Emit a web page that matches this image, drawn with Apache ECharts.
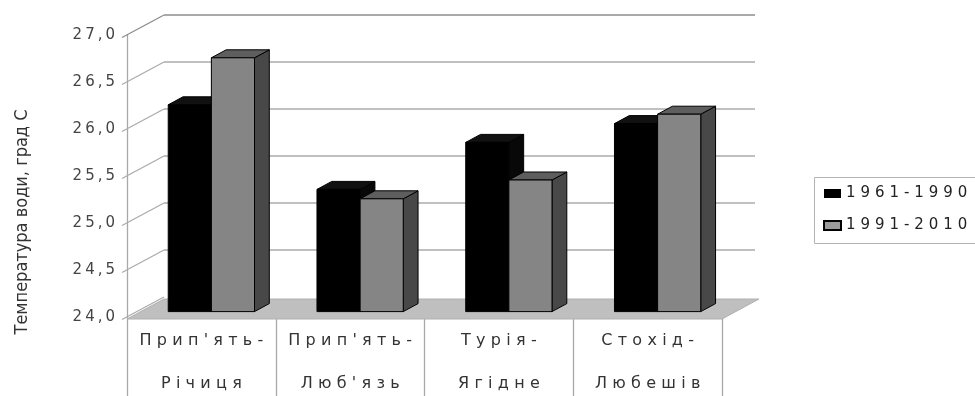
<!DOCTYPE html>
<html>
<head>
<meta charset="utf-8">
<script src="https://cdn.jsdelivr.net/npm/echarts@6/dist/echarts.min.js"></script>
<style>
  html, body { margin: 0; padding: 0; background: #fff; }
  #chart { width: 975px; height: 396px; }
</style>
</head>
<body>
<div id="chart"></div>
<script>
// Гідрологічні пости
const categories = ["Прип'ять-\nРічиця", "Прип'ять-\nЛюб'язь", "Турія-\nЯгідне", "Стохід-\nЛюбешів"];
// Назви періодів
const periods = ['1961-1990', '1991-2010'];
// Середня максимальна температура води, °C
const values1961_1990 = [26.2, 25.3, 25.8, 26.0];
const values1991_2010 = [26.7, 25.2, 25.4, 26.1];
// Поділки осі значень
const yTicks = [24.0, 24.5, 25.0, 25.5, 26.0, 26.5, 27.0];
const yTitle = 'Температура води, град С';

// Псевдо-3D: зміщення задньої стінки відносно передньої площини
const DEPTH = { x: 37, y: -20 };
const BAR_FRONT = 0.27;  // частка глибини до передньої грані стовпчика
const BAR_DEPTH = 0.4;   // глибина стовпчика
const BAR_WIDTH = 0.29;  // ширина стовпчика як частка категорії

// Розрядка літер
function spread(s, sp) {
  return s.split('\n').map(l => Array.from(l).join(sp)).join('\n');
}

const faceColors = [
  { front: '#000000', top: '#111111', side: '#080808' },
  { front: '#858585', top: '#5e5e5e', side: '#484848' }
];

function barRenderer(slot) {
  const c = faceColors[slot];
  return function (params, api) {
    const ci = api.value(0);
    const v = api.value(1);
    const base = api.coord([ci, yTicks[0]]);
    const top = api.coord([ci, v]);
    const cw = api.size([1, 0])[0];
    const bw = cw * BAR_WIDTH;
    const fx = DEPTH.x * BAR_FRONT, fy = DEPTH.y * BAR_FRONT;
    const dx = DEPTH.x * BAR_DEPTH, dy = DEPTH.y * BAR_DEPTH;
    const x0 = base[0] + (slot === 0 ? -bw : 0) + fx;
    const ty = top[1] + fy;
    const by = base[1] + fy;
    const stroke = { stroke: '#000', lineWidth: 1, lineJoin: 'round' };
    return {
      type: 'group',
      children: [
        {
          type: 'polygon',
          shape: { points: [[x0 + bw, ty], [x0 + bw, by], [x0 + bw + dx, by + dy], [x0 + bw + dx, ty + dy]] },
          style: Object.assign({ fill: c.side }, stroke)
        },
        {
          type: 'polygon',
          shape: { points: [[x0, ty], [x0 + bw, ty], [x0 + bw + dx, ty + dy], [x0 + dx, ty + dy]] },
          style: Object.assign({ fill: c.top }, stroke)
        },
        {
          type: 'rect',
          shape: { x: x0, y: ty, width: bw, height: by - ty },
          style: Object.assign({ fill: c.front }, stroke)
        }
      ]
    };
  };
}

// Задня стінка: діагоналі від поділок і горизонтальні лінії сітки
function wallRenderer(params, api) {
  const v = api.value(0);
  const cs = params.coordSys;
  const p = api.coord([0, v]);
  const left = cs.x, right = cs.x + cs.width, y = p[1];
  const line = { stroke: v === yTicks[yTicks.length - 1] ? '#8c8c8c' : '#ababab', lineWidth: 1.3 };
  const children = [{
    type: 'line',
    shape: { x1: left - 5, y1: y + 2.5, x2: left + DEPTH.x, y2: y + DEPTH.y },
    style: line
  }];
  if (v !== yTicks[0]) {
    children.push({
      type: 'line',
      shape: { x1: left + DEPTH.x, y1: y + DEPTH.y, x2: right + DEPTH.x - 4, y2: y + DEPTH.y },
      style: line
    });
  }
  return { type: 'group', children };
}

// Підлога
function floorRenderer(params, api) {
  const cs = params.coordSys;
  const y = api.coord([0, api.value(0)])[1];
  const left = cs.x, right = cs.x + cs.width;
  return {
    type: 'polygon',
    shape: { points: [[left, y + 2], [right, y + 2], [right + DEPTH.x, y + DEPTH.y + 2], [left + DEPTH.x, y + DEPTH.y + 2]] },
    style: { fill: '#bfbfbf', stroke: '#b0b0b0', lineWidth: 1 }
  };
}

const chart = echarts.init(document.getElementById('chart'), null, { renderer: 'canvas' });

chart.setOption({
  backgroundColor: '#ffffff',
  animation: false,
  grid: { left: 127, top: 35, width: 595, height: 282, containLabel: false, outerBoundsMode: 'none' },
  xAxis: {
    type: 'category',
    data: categories,
    axisLine: { show: false },
    axisTick: { show: true, length: 82, lineStyle: { color: '#a8a8a8', width: 1.3 } },
    axisLabel: {
      interval: 0,
      formatter: s => spread(s, '\u2004'),
      fontFamily: 'DejaVu Sans',
      fontSize: 16,
      color: '#333',
      lineHeight: 43,
      margin: 2
    },
    splitLine: { show: false }
  },
  yAxis: {
    type: 'value',
    min: yTicks[0],
    max: yTicks[yTicks.length - 1],
    interval: 0.5,
    axisLine: { show: true, lineStyle: { color: '#a8a8a8', width: 1.3 } },
    axisTick: { show: false },
    splitLine: { show: false },
    axisLabel: {
      formatter: v => spread(v.toFixed(1).replace('.', ','), '\u2009'),
      fontFamily: 'DejaVu Sans',
      fontSize: 15,
      color: '#444',
      margin: 12
    }
  },
  legend: {
    orient: 'vertical',
    left: 818,
    top: 181,
    itemWidth: 17,
    itemHeight: 9,
    itemGap: 17,
    formatter: n => spread(n, '\u2004'),
    textStyle: { fontFamily: 'DejaVu Sans', fontSize: 15, color: '#222' },
    data: [
      { name: periods[0], icon: 'rect', itemStyle: { color: '#000' } },
      { name: periods[1], icon: 'rect', itemStyle: { color: '#9a9a9a', borderColor: '#000', borderWidth: 2 } }
    ]
  },
  graphic: [
    {
      type: 'rect',
      left: 812, top: 175,
      shape: { width: 190, height: 66 },
      style: { fill: 'none', stroke: '#b3b3b3', lineWidth: 1 }
    },
    {
      type: 'text',
      x: 22, y: 222,
      rotation: Math.PI / 2,
      style: {
        text: yTitle,
        fontFamily: '"DejaVu Sans Condensed", "Liberation Sans", sans-serif',
        fontSize: 18,
        fill: '#333',
        textAlign: 'center',
        textVerticalAlign: 'middle'
      }
    }
  ],
  series: [
    {
      type: 'custom',
      name: 'wall',
      silent: true,
      z: 1,
      renderItem: wallRenderer,
      data: yTicks.map(v => [v])
    },
    {
      type: 'custom',
      name: 'floor',
      silent: true,
      z: 2,
      renderItem: floorRenderer,
      data: [[yTicks[0]]]
    },
    {
      type: 'custom',
      name: periods[0],
      z: 3,
      itemStyle: { color: '#000' },
      renderItem: barRenderer(0),
      encode: { x: 0, y: 1 },
      data: values1961_1990.map((v, i) => [i, v])
    },
    {
      type: 'custom',
      name: periods[1],
      z: 4,
      itemStyle: { color: '#858585' },
      renderItem: barRenderer(1),
      encode: { x: 0, y: 1 },
      data: values1991_2010.map((v, i) => [i, v])
    }
  ]
});
</script>
</body>
</html>
